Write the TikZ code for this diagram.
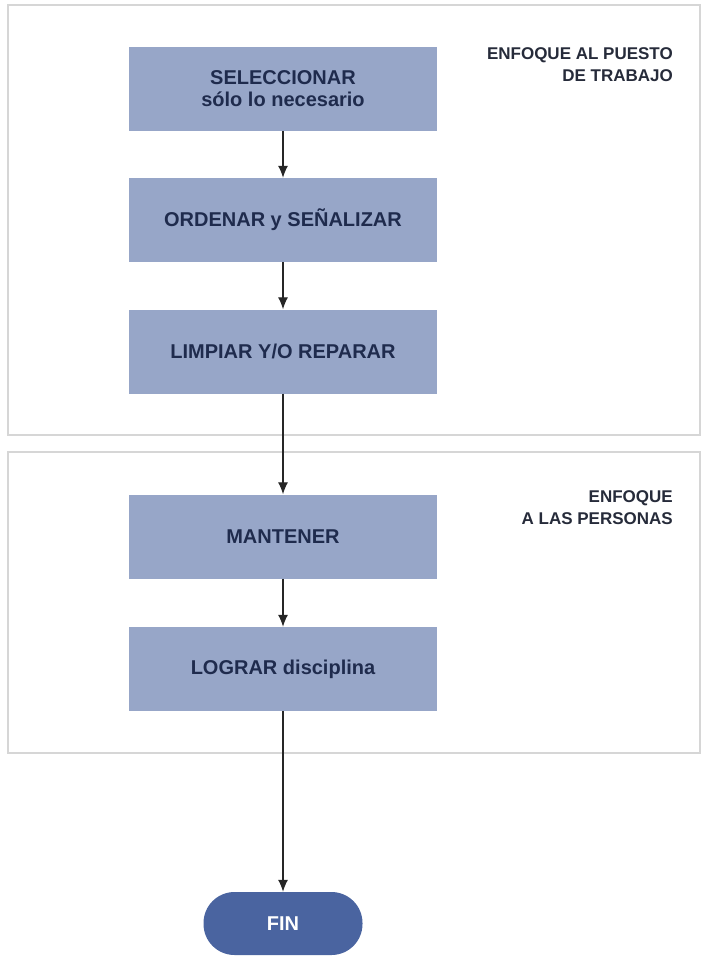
\documentclass[tikz,border=0pt]{standalone}
\usepackage{fontspec}
\setmainfont{Liberation Sans}
\usetikzlibrary{arrows.meta}
\definecolor{boxfill}{HTML}{97A6C8}
\definecolor{boxtext}{HTML}{1F2B4D}
\definecolor{labeltext}{HTML}{262B3A}
\definecolor{finfill}{HTML}{4A64A0}
\definecolor{framegray}{HTML}{D6D6D6}

\begin{document}
\begin{tikzpicture}[x=1pt,y=-1pt]


\tikzstyle{paso}=[shape=rectangle, fill=boxfill, text=boxtext,
    minimum width=308pt, minimum height=84pt, align=center,
    font=\fontsize{20}{22}\selectfont\bfseries]
\tikzstyle{fin}=[shape=rectangle, rounded corners=31pt,
    fill=finfill, text=white,
    minimum width=159pt, minimum height=63pt,
    font=\fontsize{20}{22}\selectfont\bfseries]
\tikzstyle{enfoque}=[align=right, anchor=north east, inner sep=0pt,
    text=labeltext, font=\fontsize{17}{22}\selectfont\bfseries]
\tikzstyle{flecha}=[-{Latex[length=12pt,width=10pt]}, line width=1.2pt, black!85]

  \useasboundingbox (0,0) rectangle (711,960);

  % puesto de trabajo
  \draw[framegray, line width=1.5pt] (8,5) rectangle (700,435);
  \node[enfoque] (puesto) at (673,47) {ENFOQUE AL PUESTO\\DE TRABAJO};
  % personas
  \draw[framegray, line width=1.5pt] (8,452) rectangle (700,753);
  \node[enfoque] (personas) at (673,490) {ENFOQUE\\A LAS PERSONAS};

  \node[paso] (seleccionar) at (283,89) {SELECCIONAR\\sólo lo necesario};
  \node[paso] (ordenar) at (283,220) {ORDENAR y SEÑALIZAR};
  \node[paso] (limpiar) at (283,351.5) {LIMPIAR Y/O REPARAR};
  \node[paso] (mantener) at (283,536.5) {MANTENER};
  \node[paso] (lograr) at (283,669) {LOGRAR disciplina};
  \node[fin] (fin) at (283,923.5) {FIN};

  \draw[flecha] (seleccionar) -- (ordenar);
  \draw[flecha] (ordenar) -- (limpiar);
  \draw[flecha] (limpiar) -- (mantener);
  \draw[flecha] (mantener) -- (lograr);
  \draw[flecha] (lograr) -- (fin);


\end{tikzpicture}
\end{document}
